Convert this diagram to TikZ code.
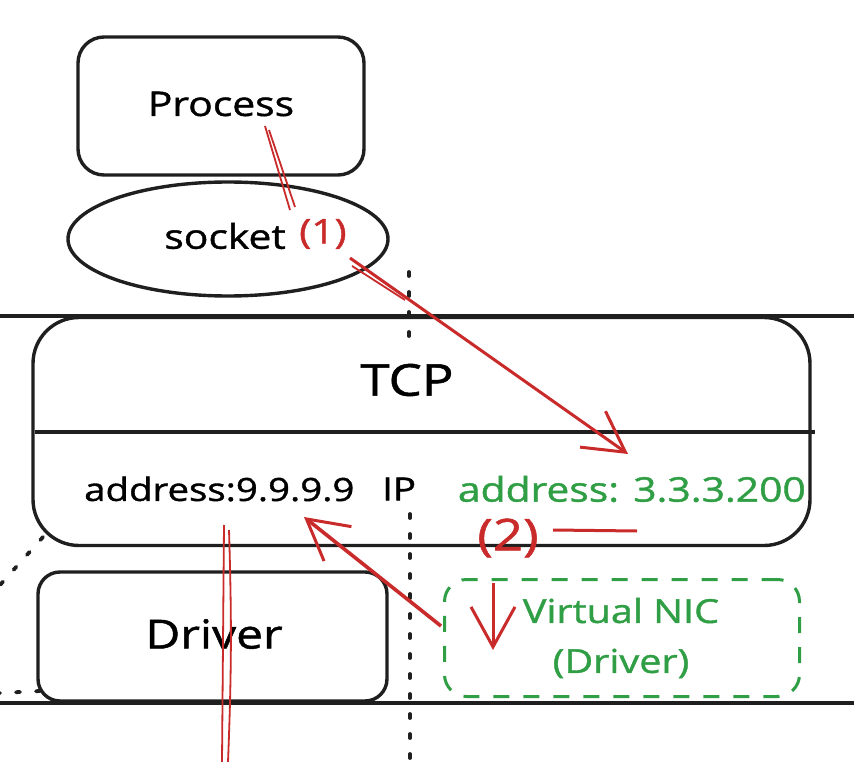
\documentclass[tikz,border=0pt]{standalone}
\usepackage{fontspec}
\setmainfont{Open Sans}[FakeStretch=1.2, FakeBold=1.2]
\usetikzlibrary{arrows.meta,shapes.geometric,calc}
\definecolor{xred}{HTML}{C92A2A}
\definecolor{xgreen}{HTML}{2F9E44}
\tikzset{
  sketch/.style={draw=black!88, line width=3.4pt},
  rbox/.style={sketch, rounded corners=26pt, inner sep=0pt},
  layerline/.style={draw=black!88, line width=3.8pt},
  dotline/.style={draw=black!88, line width=3.8pt, line cap=round, dash pattern=on 4pt off 16pt},
  redpen/.style={draw=xred, line width=3pt},
  thinpen/.style={draw=xred, line width=1.8pt},
  redtip/.style={-{Straight Barb[length=40pt, width=44pt, line width=3pt]}},
  bigtext/.style={font=\fontsize{34}{40}\selectfont},
  midtext/.style={font=\fontsize{32}{38}\selectfont},
  hugetext/.style={font=\fontsize{44}{50}\selectfont},
}

\begin{document}
\begin{tikzpicture}[x=1pt, y=-1pt]
			%%%%% START %%%%%
			\useasboundingbox (0, 0) rectangle (854, 762);
			
			% layer borders
			\draw[layerline] (0, 316) -- (854, 316);
			\draw[layerline] (0, 703) -- (854, 703);
			
			% dotted split
			\draw[dotline] (409, 272) -- (409, 340);
			\draw[dotline] (410, 514) -- (410, 762);
			\draw[dotline] (43, 537) -- (0, 585);
			\draw[dotline] (40, 691) -- (0, 693);
			
			% user space
			\node[rbox, minimum width=286pt, minimum height=138pt] (proc) at (221, 106) {};
			\node[bigtext] (proctext) at (221, 104) {Process};
			
			\node[sketch, ellipse, minimum width=320pt, minimum height=114pt] (sock) at (228, 239) {};
			\node[bigtext, anchor=east, inner sep=0pt] (socktext) at (286, 236) {socket};
			\node[bigtext, text=xred, anchor=west, inner sep=0pt] (one) at (299, 234) {(1)};
			
			% kernel
			\node[rbox, rounded corners=46pt, minimum width=777pt, minimum height=228pt] (tcp) at (421.5, 431.5) {};
			\draw[sketch] (35, 432) -- (815, 432);
			\node[hugetext] (tcptext) at (407, 380) {TCP};
			\node[midtext, anchor=west, inner sep=0pt] (ipa) at (84, 489) {address:9.9.9.9};
			\node[midtext, anchor=west, inner sep=0pt] (iptext) at (382, 489) {IP};
			\node[font=\fontsize{34}{40}\selectfont, text=xgreen, anchor=east, inner sep=0pt] (ipb) at (806, 489) {address: 3.3.3.200};
			\node[hugetext, text=xred] (two) at (508, 538) {(2)};
			
			\node[rbox, rounded corners=22pt, minimum width=349pt, minimum height=129pt] (drv) at (212.5, 636.5) {};
			\node[font=\fontsize{40}{46}\selectfont] (drvtext) at (214, 634) {Driver};
			
			\node[draw=xgreen, line width=3pt, dash pattern=on 16pt off 14pt, rounded corners=22pt, minimum width=355pt, minimum height=117pt] (vnic) at (622, 638) {};
			\node[font=\fontsize{33}{50}\selectfont, text=xgreen, align=center] (vnictext) at (621, 638) {Virtual NIC\\(Driver)};
			
			% flow
			\coordinate (p1) at (265, 126);
			\coordinate (p2) at (290, 210);
			\draw[thinpen] (p1) -- (p2);
			\draw[thinpen] ($(p1)+(4,4)$) -- ($(p2)+(5,-3)$);
			
			\coordinate (a1) at (350, 258);
			\coordinate (a2) at (628, 454);
			\draw[redpen, redtip] (a1) -- (a2);
			\draw[thinpen] ($(a1)+(2,8)$) -- (405, 300);
			
			\draw[redpen] (553, 530) -- (637, 531);
			
			\coordinate (d1) at (493, 583);
			\coordinate (d2) at (493, 650);
			\draw[redpen, redtip] (d1) -- (d2);
			
			\coordinate (b1) at (441, 626);
			\coordinate (b2) at (304, 517);
			\draw[redpen, line width=3.6pt, redtip] (b1) -- (b2);
			
			\coordinate (c1) at (224, 525);
			\coordinate (c2) at (222, 762);
			\draw[thinpen] (c1) -- (c2);
			\draw[thinpen] (229, 530) to[bend left=2] (228, 762);
			%%%%% END %%%%%
		\end{tikzpicture}
\end{document}
